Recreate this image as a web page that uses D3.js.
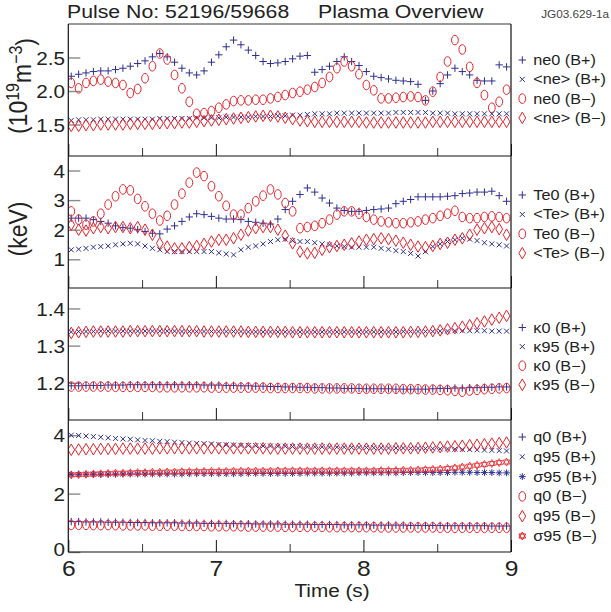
<!DOCTYPE html>
<html>
<head>
<meta charset="utf-8">
<script src="https://cdn.jsdelivr.net/npm/d3@7"></script>
<style>
  body { margin: 0; background: #fff; }
  text { font-family: "Liberation Sans", Arial, sans-serif; fill: #222; }
</style>
</head>
<body>
<svg id="chart" width="611" height="612"></svg>
<script>
// time base (s), one sample every 50 ms
var times = [6.02,6.07,6.12,6.17,6.22,6.27,6.32,6.37,6.42,6.47,6.52,6.57,6.62,6.67,6.72,6.77,6.82,6.87,6.92,6.97,
  7.02,7.07,7.12,7.17,7.22,7.27,7.32,7.37,7.42,7.47,7.52,7.57,7.62,7.67,7.72,7.77,7.82,7.87,7.92,7.97,
  8.02,8.07,8.12,8.17,8.22,8.27,8.32,8.37,8.42,8.47,8.52,8.57,8.62,8.67,8.72,8.77,8.82,8.87,8.92,8.97];

// density, 1e19 m^-3
var ne0Bp = [2.22,2.25,2.27,2.29,2.30,2.30,2.32,2.34,2.37,2.41,2.45,2.51,2.56,2.51,2.43,2.34,2.27,2.24,2.30,2.43,
  2.54,2.66,2.76,2.69,2.61,2.53,2.44,2.41,2.42,2.44,2.48,2.52,2.53,2.28,2.32,2.37,2.44,2.51,2.44,2.38,
  2.29,2.22,2.20,2.18,2.16,2.15,2.14,2.10,1.86,2.00,2.11,2.24,2.34,2.29,2.24,2.16,2.15,2.15,2.39,2.36];
var neAvBp = [1.56,1.57,1.57,1.57,1.58,1.58,1.58,1.58,1.58,1.58,1.58,1.58,1.59,1.59,1.59,1.59,1.59,1.60,1.60,1.60,
  1.60,1.61,1.61,1.61,1.61,1.62,1.62,1.62,1.63,1.63,1.64,1.64,1.65,1.66,1.66,1.66,1.67,1.67,1.67,1.67,
  1.67,1.67,1.67,1.67,1.68,1.68,1.68,1.68,1.68,1.67,1.67,1.67,1.66,1.66,1.66,1.66,1.66,1.66,1.66,1.66];
var ne0Bm = [2.12,2.04,2.12,2.15,2.17,2.14,2.12,2.09,1.97,2.03,2.19,2.37,2.56,2.47,2.24,2.04,1.84,1.66,1.67,1.70,
  1.75,1.80,1.85,1.86,1.86,1.87,1.87,1.89,1.91,1.94,1.97,1.99,2.02,2.06,2.12,2.21,2.34,2.44,2.37,2.25,
  2.09,2.01,1.89,1.89,1.90,1.91,1.92,1.91,1.86,1.99,2.21,2.44,2.76,2.62,2.36,2.12,1.94,1.75,1.84,2.02];
var neAvBm = [1.48,1.48,1.49,1.49,1.50,1.50,1.50,1.50,1.51,1.51,1.51,1.51,1.52,1.52,1.52,1.53,1.53,1.54,1.55,1.56,
  1.57,1.58,1.59,1.60,1.61,1.62,1.63,1.63,1.62,1.60,1.58,1.56,1.55,1.54,1.54,1.54,1.54,1.54,1.54,1.54,
  1.53,1.53,1.53,1.53,1.53,1.53,1.53,1.53,1.53,1.54,1.54,1.54,1.54,1.54,1.54,1.54,1.54,1.54,1.54,1.54];

// temperature, keV
var te0Bp = [2.39,2.39,2.39,2.34,2.28,2.22,2.13,2.07,2.05,2.00,1.94,1.88,1.86,2.02,2.13,2.28,2.43,2.54,2.51,2.45,
  2.39,2.36,2.36,2.34,2.28,2.25,2.22,2.19,2.36,2.68,2.96,3.19,3.41,3.27,3.07,2.90,2.73,2.65,2.62,2.62,
  2.65,2.68,2.70,2.73,2.88,2.96,3.02,3.11,3.11,3.11,3.11,3.13,3.15,3.22,3.24,3.27,3.27,3.30,3.15,2.96];
var teAvBp = [1.32,1.34,1.37,1.41,1.43,1.45,1.49,1.52,1.54,1.52,1.45,1.37,1.32,1.26,1.26,1.26,1.26,1.26,1.26,1.26,
  1.22,1.18,1.15,1.32,1.41,1.45,1.52,1.60,1.66,1.68,1.63,1.60,1.60,1.56,1.52,1.49,1.45,1.43,1.41,1.41,
  1.41,1.41,1.37,1.34,1.29,1.26,1.20,1.11,1.26,1.43,1.52,1.60,1.66,1.71,1.68,1.63,1.56,1.52,1.49,1.45];
var te0Bm = [2.62,2.34,2.17,2.28,2.54,2.85,3.13,3.36,3.33,3.04,2.79,2.54,2.31,2.47,2.85,3.22,3.59,3.93,3.81,3.47,
  3.13,2.81,2.51,2.51,2.73,2.96,3.15,3.36,3.19,2.90,2.62,2.05,2.09,2.13,2.22,2.34,2.51,2.62,2.62,2.54,
  2.43,2.34,2.28,2.25,2.22,2.22,2.25,2.28,2.34,2.39,2.47,2.54,2.64,2.43,2.39,2.39,2.43,2.45,2.43,2.39];
var teAvBm = [2.17,2.00,1.97,2.05,2.09,2.05,2.09,2.09,2.05,2.09,2.00,1.83,1.54,1.43,1.37,1.37,1.41,1.45,1.52,1.60,
  1.66,1.66,1.71,1.83,1.97,2.05,2.09,2.09,2.00,1.80,1.54,1.26,1.20,1.22,1.32,1.41,1.45,1.49,1.54,1.60,
  1.66,1.68,1.71,1.68,1.63,1.56,1.49,1.43,1.41,1.45,1.52,1.56,1.66,1.71,1.83,2.00,2.05,2.09,2.02,1.83];

// elongation
var k0Bp = [1.192,1.192,1.193,1.193,1.193,1.194,1.194,1.194,1.195,1.195,1.195,1.195,1.195,1.195,1.195,1.195,1.195,1.195,1.194,1.194,
  1.194,1.193,1.193,1.192,1.192,1.191,1.191,1.190,1.190,1.189,1.189,1.188,1.188,1.187,1.187,1.186,1.186,1.185,1.185,1.185,
  1.184,1.184,1.184,1.184,1.183,1.183,1.183,1.183,1.183,1.184,1.185,1.185,1.186,1.186,1.187,1.187,1.188,1.188,1.189,1.189];
var k95Bp = [1.337,1.338,1.338,1.338,1.339,1.339,1.339,1.339,1.339,1.339,1.339,1.339,1.339,1.339,1.339,1.338,1.338,1.338,1.338,1.338,
  1.338,1.338,1.338,1.338,1.337,1.337,1.337,1.337,1.337,1.337,1.337,1.337,1.337,1.337,1.337,1.337,1.337,1.337,1.337,1.337,
  1.337,1.337,1.337,1.337,1.337,1.338,1.338,1.338,1.338,1.338,1.339,1.339,1.340,1.340,1.340,1.340,1.340,1.339,1.339,1.339];
var k0Bm = [1.190,1.190,1.190,1.190,1.190,1.190,1.189,1.189,1.189,1.189,1.189,1.189,1.188,1.188,1.188,1.188,1.188,1.188,1.188,1.187,
  1.187,1.187,1.187,1.187,1.187,1.187,1.187,1.186,1.186,1.186,1.186,1.186,1.186,1.185,1.185,1.185,1.185,1.185,1.185,1.184,
  1.184,1.184,1.184,1.184,1.184,1.183,1.183,1.183,1.182,1.182,1.181,1.180,1.178,1.176,1.179,1.181,1.183,1.184,1.185,1.186];
var k95Bm = [1.334,1.336,1.337,1.338,1.338,1.338,1.338,1.338,1.339,1.339,1.339,1.339,1.339,1.339,1.339,1.339,1.339,1.339,1.338,1.338,
  1.338,1.338,1.338,1.338,1.337,1.337,1.337,1.337,1.337,1.337,1.336,1.336,1.336,1.336,1.336,1.336,1.336,1.336,1.336,1.336,
  1.336,1.336,1.336,1.336,1.336,1.336,1.337,1.337,1.338,1.339,1.341,1.344,1.347,1.351,1.355,1.360,1.365,1.370,1.375,1.380];

// safety factor / shear
var q0Bp = [1.04,1.04,1.03,1.03,1.03,1.02,1.02,1.02,1.01,1.01,1.01,1.00,1.00,1.00,1.00,0.99,0.99,0.99,0.98,0.98,
  0.98,0.98,0.97,0.97,0.97,0.96,0.96,0.96,0.96,0.95,0.95,0.95,0.95,0.94,0.94,0.94,0.94,0.93,0.93,0.93,
  0.93,0.92,0.92,0.92,0.92,0.92,0.91,0.91,0.91,0.91,0.91,0.90,0.90,0.90,0.90,0.90,0.90,0.89,0.89,0.89];
var q95Bp = [4.00,3.99,3.97,3.95,3.93,3.91,3.89,3.87,3.86,3.84,3.82,3.81,3.79,3.78,3.76,3.75,3.73,3.72,3.71,3.70,
  3.68,3.67,3.66,3.65,3.65,3.64,3.63,3.63,3.62,3.62,3.61,3.61,3.60,3.60,3.60,3.59,3.59,3.59,3.58,3.58,
  3.58,3.57,3.57,3.56,3.56,3.56,3.55,3.55,3.54,3.54,3.53,3.53,3.52,3.51,3.51,3.50,3.49,3.48,3.47,3.46];
var s95Bp = [2.66,2.66,2.66,2.66,2.66,2.66,2.66,2.67,2.67,2.67,2.67,2.67,2.67,2.67,2.67,2.67,2.68,2.68,2.68,2.68,
  2.68,2.68,2.68,2.68,2.69,2.69,2.69,2.69,2.69,2.69,2.69,2.69,2.70,2.70,2.70,2.70,2.70,2.70,2.70,2.71,
  2.71,2.71,2.71,2.71,2.71,2.72,2.72,2.72,2.72,2.72,2.72,2.72,2.73,2.73,2.73,2.72,2.72,2.72,2.71,2.71];
var q0Bm = [0.93,0.93,0.93,0.92,0.92,0.92,0.92,0.91,0.91,0.91,0.91,0.90,0.90,0.90,0.90,0.89,0.89,0.89,0.89,0.88,
  0.88,0.88,0.88,0.88,0.87,0.87,0.87,0.87,0.87,0.86,0.86,0.86,0.86,0.86,0.86,0.85,0.85,0.85,0.85,0.85,
  0.85,0.85,0.84,0.84,0.84,0.84,0.84,0.84,0.84,0.84,0.83,0.83,0.83,0.83,0.83,0.83,0.83,0.83,0.83,0.83];
var q95Bm = [3.50,3.51,3.52,3.52,3.53,3.53,3.53,3.54,3.54,3.54,3.54,3.54,3.55,3.55,3.55,3.55,3.55,3.55,3.55,3.55,
  3.55,3.55,3.55,3.55,3.55,3.55,3.55,3.54,3.54,3.54,3.54,3.54,3.54,3.54,3.54,3.54,3.54,3.54,3.54,3.54,
  3.54,3.54,3.54,3.54,3.55,3.55,3.55,3.56,3.57,3.58,3.59,3.61,3.62,3.64,3.66,3.67,3.69,3.71,3.73,3.75];
var s95Bm = [2.64,2.65,2.66,2.67,2.68,2.69,2.70,2.70,2.71,2.72,2.72,2.73,2.73,2.74,2.74,2.75,2.75,2.75,2.76,2.76,
  2.76,2.76,2.77,2.77,2.77,2.77,2.77,2.77,2.78,2.78,2.78,2.78,2.78,2.78,2.78,2.78,2.78,2.78,2.78,2.78,
  2.78,2.78,2.79,2.79,2.79,2.80,2.80,2.81,2.82,2.83,2.84,2.86,2.88,2.91,2.94,2.97,3.00,3.03,3.06,3.08];

var xTicks = [6, 7, 8, 9];
var xMinor = [6.5, 7.5, 8.5];

var BLUE = '#2d2f93', RED = '#e8222b';
var sx = 1.12;  // the original figure is slightly stretched sideways

var marks = {
  plus: 'M-3.7,0H3.7M0,-3.7V3.7',
  times: 'M-2.5,-2.5L2.5,2.5M-2.5,2.5L2.5,-2.5',
  oval: 'M-3.4,0A3.4,4.8 0 1,0 3.4,0A3.4,4.8 0 1,0 -3.4,0Z',
  diamond: 'M0,-5.8L3.4,0L0,5.8L-3.4,0Z',
  aster: 'M-3.4,0H3.4M0,-3.4V3.4M-2.4,-2.4L2.4,2.4M-2.4,2.4L2.4,-2.4',
  star: 'M0,-4L3.4,2L-3.4,2ZM0,4L3.4,-2L-3.4,-2Z'
};

var panels = [
  { top: 24, dom: [1.03, 3.0], ticks: [1.5, 2.0, 2.5], fmt: '.1f', lgY: 60, lgStep: 19.3,
    series: [
      { name: 'ne0 (B+)', v: ne0Bp, m: 'plus', c: BLUE },
      { name: '<ne> (B+)', v: neAvBp, m: 'times', c: BLUE },
      { name: 'ne0 (B\u2212)', v: ne0Bm, m: 'oval', c: RED },
      { name: '<ne> (B\u2212)', v: neAvBm, m: 'diamond', c: RED } ] },
  { top: 156, dom: [0.03, 4.49], ticks: [1, 2, 3, 4], fmt: 'd', lgY: 195, lgStep: 19.4,
    series: [
      { name: 'Te0 (B+)', v: te0Bp, m: 'plus', c: BLUE },
      { name: '<Te> (B+)', v: teAvBp, m: 'times', c: BLUE },
      { name: 'Te0 (B\u2212)', v: te0Bm, m: 'oval', c: RED },
      { name: '<Te> (B\u2212)', v: teAvBm, m: 'diamond', c: RED } ] },
  { top: 288, dom: [1.1, 1.455], ticks: [1.2, 1.3, 1.4], fmt: '.1f', lgY: 327.5, lgStep: 19.1,
    series: [
      { name: '\u03ba0 (B+)', v: k0Bp, m: 'plus', c: BLUE },
      { name: '\u03ba95 (B+)', v: k95Bp, m: 'times', c: BLUE },
      { name: '\u03ba0 (B\u2212)', v: k0Bm, m: 'oval', c: RED },
      { name: '\u03ba95 (B\u2212)', v: k95Bm, m: 'diamond', c: RED } ] },
  { top: 420, dom: [0, 4.52], ticks: [0, 2, 4], fmt: 'd', lgY: 437, lgStep: 19.8,
    series: [
      { name: 'q0 (B+)', v: q0Bp, m: 'plus', c: BLUE },
      { name: 'q95 (B+)', v: q95Bp, m: 'times', c: BLUE },
      { name: '\u03c395 (B+)', v: s95Bp, m: 'aster', c: BLUE },
      { name: 'q0 (B\u2212)', v: q0Bm, m: 'oval', c: RED },
      { name: 'q95 (B\u2212)', v: q95Bm, m: 'diamond', c: RED },
      { name: '\u03c395 (B\u2212)', v: s95Bm, m: 'star', c: RED } ] }
];

var left = 68.3, right = 511, ph = 132;
var svg = d3.select('#chart');
var x = d3.scaleLinear().domain([6, 9]).range([left, right]);

function label(g, px, py, txt, size, anchor) {
  return g.append('text')
    .attr('transform', 'translate(' + px + ',' + py + ') scale(' + sx + ',1)')
    .attr('text-anchor', anchor || 'start')
    .style('font-size', size + 'px')
    .text(txt);
}

panels.forEach(function(p, pi) {
  var y = d3.scaleLinear().domain(p.dom).range([p.top + ph, p.top]);
  var g = svg.append('g');

  svg.append('clipPath').attr('id', 'clip' + pi)
    .append('rect').attr('x', left).attr('y', p.top).attr('width', right - left).attr('height', ph);

  // y axis, ticks pointing inwards
  var ya = g.append('g').attr('transform', 'translate(' + left + ',0)')
    .call(d3.axisLeft(y).tickValues(p.ticks).tickSize(-12).tickPadding(3.3 / sx).tickFormat(d3.format(p.fmt)));
  ya.select('.domain').remove();
  ya.selectAll('line').attr('stroke', '#8a8a8a').attr('stroke-width', 1.4);
  ya.selectAll('text').attr('transform', 'scale(' + sx + ',1)')
    .attr('x', -3.3 / sx).attr('dy', function(d) { return d === 0 ? '0.2em' : '0.36em'; })
    .style('font-family', '"Liberation Sans", Arial, sans-serif').style('font-size', '18.5px').attr('fill', '#222');

  // x ticks along the bottom of every panel
  var xa = g.append('g').attr('transform', 'translate(0,' + (p.top + ph) + ')')
    .call(d3.axisBottom(x).tickValues(xTicks).tickSize(-12).tickPadding(5).tickFormat(pi === 3 ? d3.format('d') : ''));
  xa.select('.domain').remove();
  xa.selectAll('line').attr('stroke', '#111').attr('stroke-width', 1);
  xa.selectAll('text').attr('transform', 'scale(' + sx + ',1)')
    .attr('y', 8.5).style('font-family', '"Liberation Sans", Arial, sans-serif').style('font-size', '22px').attr('fill', '#222');
  var xm = g.append('g').attr('transform', 'translate(0,' + (p.top + ph) + ')')
    .call(d3.axisBottom(x).tickValues(xMinor).tickSize(-8).tickFormat(''));
  xm.select('.domain').remove();
  xm.selectAll('line').attr('stroke', '#333').attr('stroke-width', 1);

  // markers
  var pg = g.append('g').attr('clip-path', 'url(#clip' + pi + ')');
  p.series.forEach(function(s) {
    pg.append('g').selectAll('path').data(s.v).join('path')
      .attr('d', marks[s.m])
      .attr('transform', function(d, i) { return 'translate(' + x(times[i]) + ',' + y(d) + ')'; })
      .attr('fill', 'none').attr('stroke', s.c).attr('stroke-width', s.m === 'star' ? 0.8 : 1);
  });

  // legend
  p.series.forEach(function(s, i) {
    var ly = p.lgY + i * p.lgStep;
    g.append('path').attr('d', marks[s.m]).attr('transform', 'translate(522.3,' + ly + ')')
      .attr('fill', 'none').attr('stroke', s.c).attr('stroke-width', 1);
    label(g, 533.3, ly + 5, s.name, 14.5, 'start');
  });

  // panel separator (bottom edge)
  g.append('line').attr('x1', left).attr('x2', right).attr('y1', p.top + ph).attr('y2', p.top + ph)
    .attr('stroke', '#111').attr('stroke-width', 1.2);
});

// frame
svg.append('line').attr('x1', left).attr('x2', right).attr('y1', 24).attr('y2', 24)
  .attr('stroke', '#777').attr('stroke-width', 1.5);
svg.append('line').attr('x1', left).attr('x2', left).attr('y1', 24).attr('y2', 552)
  .attr('stroke', '#111').attr('stroke-width', 1.2);
svg.append('line').attr('x1', right).attr('x2', right).attr('y1', 24).attr('y2', 552)
  .attr('stroke', '#111').attr('stroke-width', 1.2);

// titles
label(svg, 67, 18, 'Pulse No: 52196/59668', 19, 'start');
label(svg, 318, 18, 'Plasma Overview', 19, 'start');
label(svg, 609, 18, 'JG03.629-1a', 10.5, 'end').style('fill', '#444');
label(svg, 332, 597, 'Time (s)', 18.5, 'middle');

// rotated y titles
var yt1 = svg.append('text')
  .attr('transform', 'translate(27,86) scale(' + sx + ',1) rotate(-90)')
  .attr('text-anchor', 'middle').style('font-size', '23px');
yt1.append('tspan').text('(10');
yt1.append('tspan').attr('dy', '-0.45em').style('font-size', '16px').text('19');
yt1.append('tspan').attr('dy', '0.45em').text('m');
yt1.append('tspan').attr('dy', '-0.45em').style('font-size', '16px').text('\u22123');
yt1.append('tspan').attr('dy', '0.45em').text(')');

svg.append('text')
  .attr('transform', 'translate(27,229) scale(' + sx + ',1) rotate(-90)')
  .attr('text-anchor', 'middle').style('font-size', '23px').text('(keV)');
</script>
</body>
</html>
